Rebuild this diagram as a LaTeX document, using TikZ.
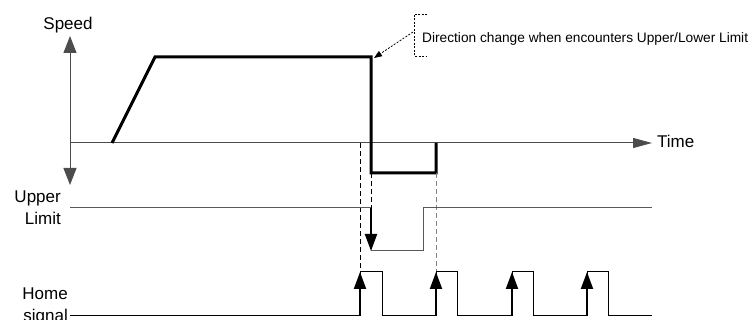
\documentclass[tikz,border=0pt]{standalone}
\usepackage{fontspec}
\setmainfont{Liberation Sans}
\usetikzlibrary{arrows.meta,calc}

\begin{document}
\begin{tikzpicture}[x=1pt, y=-1pt, >={Triangle[length=17pt,width=12pt]},
		lbl/.style={font=\fontsize{17}{22}\selectfont, inner sep=0pt},
		sig/.style={line width=1pt},
		speedline/.style={line width=3pt},
		guide/.style={line width=0.8pt, dash pattern=on 5pt off 3pt},
		pulse/.style={line width=2pt, ->}]
		\useasboundingbox (0,0) rectangle (748,320);
		% axes
		\coordinate (vtop) at (70,36);
		\coordinate (vbot) at (70,185);
		\coordinate (torig) at (70,143);
		\coordinate (tend) at (652,143);
		\draw[sig, gray!60!black, <->, >={Triangle[length=17pt,width=13pt]}] (vtop) -- (vbot);
		\draw[sig, gray!60!black, ->, >={Triangle[length=19pt,width=10pt]}] (torig) -- (tend);
		\node[lbl, anchor=base] (speedlbl) at (68,30) {Speed};
		\node[lbl, anchor=base west] (timelbl) at (657,148) {Time};
		% speed profile
		\coordinate (turn) at (371,57);
		\draw[speedline] (112,143) -- (155,57) -- (turn) -- (371,173) -- (436,173) -- (436,143);
		% note
		\draw[line width=0.7pt, dash pattern=on 2pt off 1.5pt] (427,14) -- (414,14) -- (414,56) -- (427,56);
		\node[font=\fontsize{13.7}{16}\selectfont, inner sep=0pt, anchor=base west] (note) at (422,43)
			{Direction change when encounters Upper/Lower Limit};
		\coordinate (brk) at (413,32);
		\draw[line width=0.7pt, dash pattern=on 2pt off 1.5pt, ->, >={Triangle[length=8pt,width=6pt]}] (brk) -- ($(turn)+(3,1)$);
		% guides
		\draw[guide] (360,143) -- (360,272);
		\draw[guide] (371,173) -- (371,208);
		\draw[guide, gray] (436,173) -- (436,272);
		% upper limit
		\draw[sig, gray!70!black] (70,208) -- (371,208);
		\draw[sig, gray!70!black] (371,251) -- (423,251) -- (423,208) -- (652,208);
		\draw[pulse] (371,208) -- (371,251);
		\node[lbl, align=right, anchor=east] (upperlbl) at (61,208) {Upper\\Limit};
		% home signal
		\draw[sig] (70,316) -- (360,316) -- (360,272) -- (382,272) -- (382,316) -- (436,316)
			-- (436,272) -- (457,272) -- (457,316) -- (512,316) -- (512,272) -- (533,272)
			-- (533,316) -- (587,316) -- (587,272) -- (608,272) -- (608,316) -- (652,316);
		\foreach \x in {360,436,512,587}
			\draw[pulse] (\x,316) -- (\x,272);
		\node[lbl, align=right, anchor=east] (homelbl) at (68,306) {Home\\signal};
	\end{tikzpicture}
\end{document}
